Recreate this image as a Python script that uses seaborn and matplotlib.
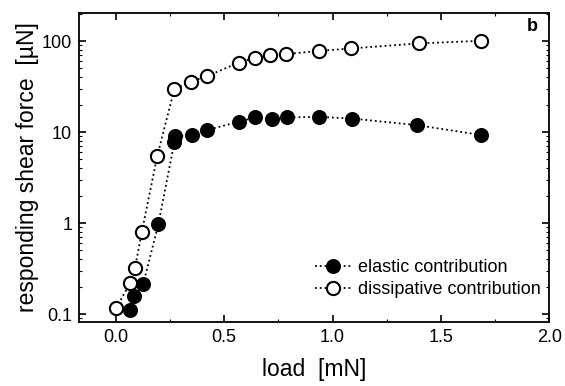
import matplotlib
matplotlib.use("Agg")
import matplotlib.pyplot as plt
import seaborn as sns
import pandas as pd
from matplotlib.ticker import MultipleLocator, FixedLocator, LogLocator, NullFormatter

# data
load_elastic = [0.065, 0.083, 0.126, 0.196, 0.27, 0.275, 0.35, 0.42, 0.566, 0.644, 0.72, 0.79, 0.937, 1.09, 1.392, 1.685]
force_elastic = [0.112, 0.158, 0.214, 0.975, 7.8, 9.0, 9.3, 10.5, 13.0, 14.5, 13.9, 14.5, 14.7, 14.1, 11.9, 9.3]
load_dissip = [0.0, 0.065, 0.088, 0.119, 0.191, 0.27, 0.346, 0.42, 0.566, 0.644, 0.713, 0.787, 0.937, 1.083, 1.40, 1.685]
force_dissip = [0.116, 0.217, 0.323, 0.79, 5.5, 30.0, 35.8, 41.2, 57.8, 66.0, 70.0, 72.0, 78.0, 83.0, 94.4, 100.7]
series_names = ["elastic contribution", "dissipative contribution"]
x_ticks = [0.0, 0.5, 1.0, 1.5, 2.0]
y_ticks = [0.1, 1, 10, 100]
y_tick_labels = ["0.1", "1", "10", "100"]

sns.set_style("ticks")
plt.rcParams['font.family'] = ['Liberation Sans', 'DejaVu Sans']
plt.rcParams['text.color'] = 'black'
plt.rcParams['axes.labelcolor'] = 'black'
plt.rcParams['xtick.color'] = 'black'
plt.rcParams['ytick.color'] = 'black'

df_e = pd.DataFrame({"load": load_elastic, "force": force_elastic})
df_d = pd.DataFrame({"load": load_dissip, "force": force_dissip})

fig = plt.figure(figsize=(5.65, 3.86), dpi=100)
ax = fig.add_axes([0.14, 0.166, 0.832, 0.800])

sns.lineplot(data=df_e, x="load", y="force", ax=ax, sort=False, estimator=None,
             color="black", linestyle=":", linewidth=1.3, marker="o", markersize=9.5,
             markerfacecolor="black", markeredgecolor="black", markeredgewidth=1.3,
             label=series_names[0])
sns.lineplot(data=df_d, x="load", y="force", ax=ax, sort=False, estimator=None,
             color="black", linestyle=":", linewidth=1.3, marker="o", markersize=9.5,
             markerfacecolor="white", markeredgecolor="black", markeredgewidth=1.5,
             label=series_names[1])

ax.set_yscale("log")
ax.set_xlim(-0.17, 2.0)
ax.set_ylim(0.082, 203)
ax.xaxis.set_major_locator(FixedLocator(x_ticks))
ax.xaxis.set_minor_locator(MultipleLocator(0.25))
ax.set_xticklabels([f"{t:.1f}" for t in x_ticks])
ax.yaxis.set_major_locator(FixedLocator(y_ticks))
ax.set_yticklabels(y_tick_labels)
ax.yaxis.set_minor_locator(LogLocator(base=10, subs=range(2, 10)))
ax.yaxis.set_minor_formatter(NullFormatter())

ax.tick_params(which="both", direction="in", top=True, right=True, labelsize=13,
               color="black", labelcolor="black")
ax.tick_params(which="major", length=5, width=1.2, pad=5)
ax.tick_params(which="minor", length=2.5, width=0.8)
for s in ax.spines.values():
    s.set_linewidth(1.3)
    s.set_color("black")

ax.set_xlabel("load  [mN]", fontsize=16.5, labelpad=9, color="black")
ax.set_ylabel("responding shear force  [µN]", fontsize=16.5, labelpad=2, color="black")
ax.text(0.975, 0.985, "b", transform=ax.transAxes, ha="right", va="top",
        fontsize=13, fontweight="bold", color="black")

leg = ax.legend(loc="lower right", bbox_to_anchor=(1.01, 0.035), frameon=False,
                fontsize=13, handlelength=2.0, handletextpad=0.4,
                borderaxespad=0.3, labelspacing=0.3)
for t in leg.get_texts():
    t.set_color("black")

fig.savefig("out.png", dpi=100)
